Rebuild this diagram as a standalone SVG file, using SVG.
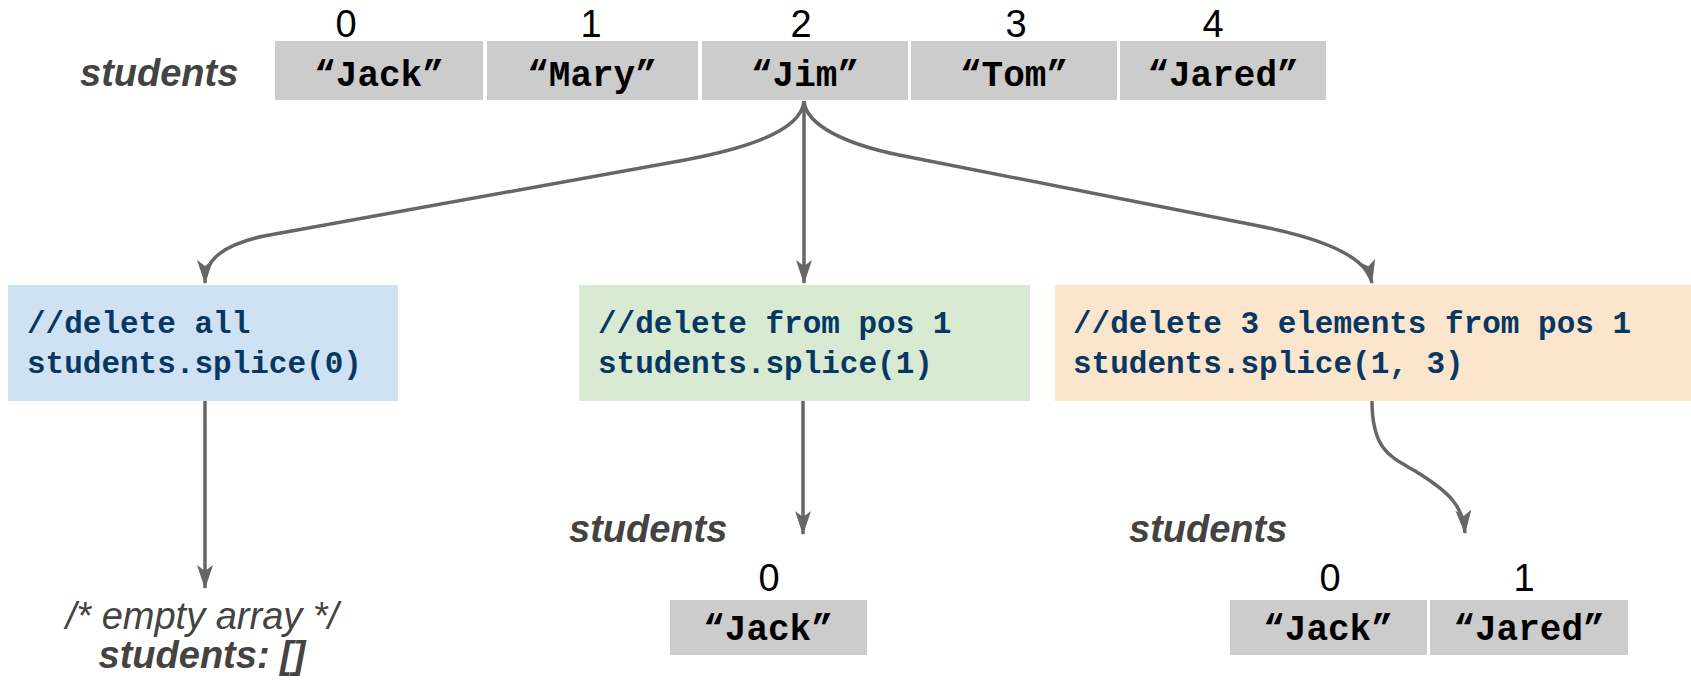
<svg xmlns="http://www.w3.org/2000/svg" width="1691" height="682" viewBox="0 0 1691 682">
<defs>
<marker id="ah" markerUnits="userSpaceOnUse" markerWidth="24" markerHeight="16" viewBox="0 0 24 16" refX="23" refY="8" orient="auto">
<path d="M0,0 L24,8 L0,16 L6,8 Z" fill="#666666"/>
</marker>
<style>
.cell{fill:#cccccc}
.ct{font-family:"Liberation Mono","Courier New",monospace;font-weight:bold;font-size:36px;fill:#000;text-anchor:middle}
.idx{font-family:"Liberation Sans",Arial,sans-serif;font-size:38px;fill:#000;text-anchor:middle}
.var{font-family:"Liberation Sans",Arial,sans-serif;font-size:38px;font-weight:bold;font-style:italic;fill:#434343}
.code{font-family:"Liberation Mono","Courier New",monospace;font-weight:bold;font-size:31px;fill:#073763}
.note{font-family:"Liberation Sans",Arial,sans-serif;font-size:38px;font-style:italic;fill:#434343;text-anchor:middle}
.conn{fill:none;stroke:#666666;stroke-width:3.5;marker-end:url(#ah)}
</style>
</defs>
<rect width="1691" height="682" fill="#ffffff"/>
<g id="top-array">
<text class="var" x="80" y="86">students</text>
<text class="idx" x="346" y="37">0</text>
<text class="idx" x="591" y="37">1</text>
<text class="idx" x="801" y="37">2</text>
<text class="idx" x="1016" y="37">3</text>
<text class="idx" x="1213" y="37">4</text>
<rect class="cell" x="275" y="41" width="208" height="59"/>
<rect class="cell" x="487" y="41" width="211" height="59"/>
<rect class="cell" x="702" y="41" width="206" height="59"/>
<rect class="cell" x="911" y="41" width="206" height="59"/>
<rect class="cell" x="1120" y="41" width="206" height="59"/>
<text class="ct" x="379" y="86">“Jack”</text>
<text class="ct" x="592" y="86">“Mary”</text>
<text class="ct" x="805" y="86">“Jim”</text>
<text class="ct" x="1014" y="86">“Tom”</text>
<text class="ct" x="1223" y="86">“Jared”</text>
</g>
<g id="box-delete-all">
<rect x="8" y="285" width="390" height="116" fill="#cfe2f3"/>
<text class="code" x="27" y="333">//delete all</text>
<text class="code" x="27" y="373">students.splice(0)</text>
</g>
<g id="box-delete-from-1">
<rect x="579" y="285" width="451" height="116" fill="#d9ead3"/>
<text class="code" x="598" y="333">//delete from pos 1</text>
<text class="code" x="598" y="373">students.splice(1)</text>
</g>
<g id="box-delete-3">
<rect x="1055" y="285" width="636" height="116" fill="#fce5cd"/>
<text class="code" x="1073" y="333">//delete 3 elements from pos 1</text>
<text class="code" x="1073" y="373">students.splice(1, 3)</text>
</g>
<g id="result-empty">
<text class="note" x="202" y="629">/* empty array */</text>
<text class="var" x="202" y="668" text-anchor="middle">students: []</text>
</g>
<g id="result-one">
<text class="var" x="569" y="542">students</text>
<text class="idx" x="769" y="591">0</text>
<rect class="cell" x="670" y="600" width="197" height="55"/>
<text class="ct" x="768" y="640">“Jack”</text>
</g>
<g id="result-two">
<text class="var" x="1129" y="542">students</text>
<text class="idx" x="1330" y="591">0</text>
<text class="idx" x="1524" y="591">1</text>
<rect class="cell" x="1230" y="600" width="197" height="55"/>
<rect class="cell" x="1430" y="600" width="198" height="55"/>
<text class="ct" x="1328" y="640">“Jack”</text>
<text class="ct" x="1529" y="640">“Jared”</text>
</g>
<g id="connectors">
<path class="conn" d="M804 101 C802 127 760 146 685 160 L264 236 C222 245 205 260 205 283"/>
<path class="conn" d="M804 101 L804 283"/>
<path class="conn" d="M804 101 C806 125 845 144 899 155 L1254 225 C1300 234 1365 250 1372 283"/>
<path class="conn" d="M205 401 L205 588"/>
<path class="conn" d="M803 401 L803 534"/>
<path class="conn" d="M1372 401 C1372 455 1395 458 1420 474 C1448 492 1463 505 1465 533"/>
</g>
</svg>
